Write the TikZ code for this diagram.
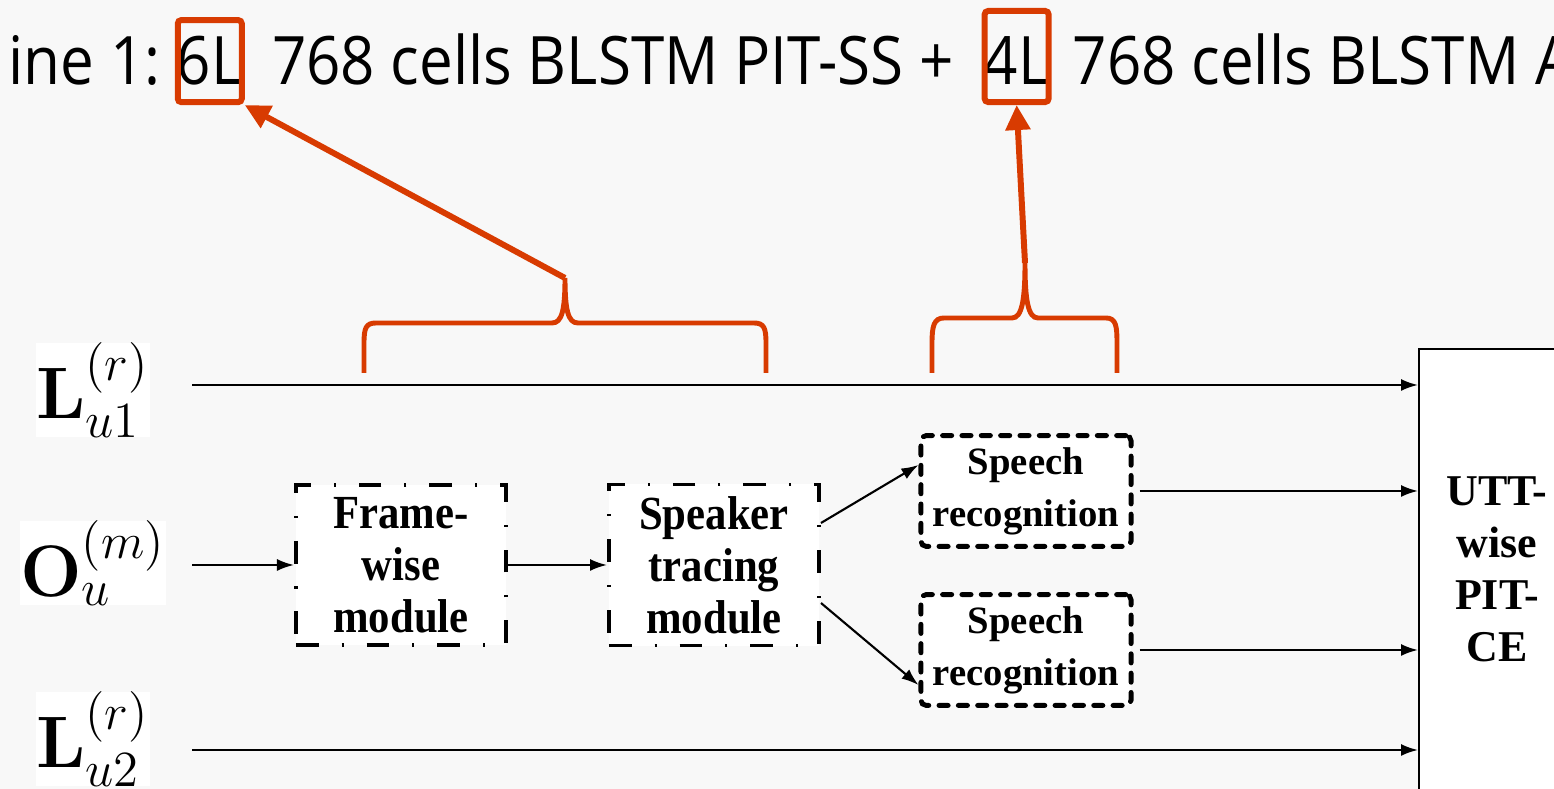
\documentclass[tikz,border=0pt]{standalone}
\usepackage{amsmath}
\usepackage[no-math]{fontspec}
\setmainfont{Liberation Serif}
\newfontfamily\slidefont[FakeStretch=0.9]{Open Sans}
\newfontfamily\boxfont[FakeStretch=0.9]{Liberation Serif}
\usetikzlibrary{arrows.meta}
\definecolor{slidebg}{RGB}{248,248,248}
\definecolor{callout}{RGB}{216,59,1}

\begin{document}
\begin{tikzpicture}[x=0.01cm, y=-0.01cm,
    slide/.style={anchor=base west, inner sep=0pt, font=\slidefont\fontsize{19}{23}\selectfont},
    hlbox/.style={draw=callout, line width=1.7pt, rounded corners=1pt, minimum width=0.64cm},
    pointer/.style={callout, line width=1.7pt, -{Triangle[length=0.25cm,width=0.24cm]}},
    brace/.style={callout, line width=1.4pt},
    inlabel/.style={fill=white, inner sep=0pt, font=\fontsize{20}{24}\selectfont},
    dashdotbox/.style={draw, fill=white, line width=1.1pt,
        dash pattern=on 6.5pt off 6.5pt on 0.6pt off 6.5pt,
        minimum width=2.1cm, minimum height=1.6cm, align=center,
        font=\boxfont\bfseries\fontsize{13.5}{14.8}\selectfont},
    dotbox/.style={draw, fill=white, line width=1.4pt, line cap=round,
        dash pattern=on 2.6pt off 2.9pt, rounded corners=1.5pt,
        minimum width=2.1cm, minimum height=1.1cm, align=center,
        font=\bfseries\fontsize{11}{14.8}\selectfont},
    arr/.style={line width=0.6pt, -{Latex[length=0.17cm,width=0.12cm]}}
]
    % Slide background
    \fill [slidebg] (0,0) rectangle (1554,789);
    \useasboundingbox (0,0) rectangle (1554,789);

    % Slide text
    \node (ln0) [slide] at (8,85) {ine 1:};
    \node (ln1) [slide] at ([xshift=0.15cm]ln0.base east) {6L};
    \node (ln2) [slide] at ([xshift=0.28cm]ln1.base east) {768 cells BLSTM PIT-SS +};
    \node (ln3) [slide] at ([xshift=0.29cm]ln2.base east) {4L};
    \node (ln4) [slide] at ([xshift=0.22cm]ln3.base east) {768 cells BLSTM A};

    % Highlight boxes
    \node (box6) [hlbox, minimum height=0.82cm] at (ln1.center) {};
    \node (box4) [hlbox, minimum height=0.91cm] at ([yshift=0.045cm]ln3.center) {};

    % Braces
    \draw [brace] (364,373) -- (364,343)
        .. controls (364,328) and (366,323) .. (376,323) -- (552,323)
        .. controls (562,323) and (565,310) .. (565,278)
        .. controls (565,310) and (568,323) .. (578,323) -- (754,323)
        .. controls (764,323) and (766,328) .. (766,343) -- (766,373);
    \coordinate (tip6) at (565,278);
    \draw [brace] (932,373) -- (932,343)
        .. controls (932,326) and (934,318) .. (944,318) -- (1012,318)
        .. controls (1022,318) and (1025,300) .. (1025,263)
        .. controls (1025,300) and (1028,318) .. (1038,318) -- (1106,318)
        .. controls (1116,318) and (1117,326) .. (1117,343) -- (1117,373);
    \coordinate (tip4) at (1025,263);
    \draw [pointer] (tip6) -- (box6.south east);
    \draw [pointer] (tip4) -- (box4.south);

    % Inputs
    \node (lu1) [inlabel] at (93,390) {$\mathbf{L}_{u1}^{(r)}$};
    \node (ou) [inlabel] at (93,563) {$\mathbf{O}_{u}^{(m)}$};
    \node (lu2) [inlabel] at (93,739) {$\mathbf{L}_{u2}^{(r)}$};

    % Modules
    \node (frame) [dashdotbox] at (401,565) {Frame-\\wise\\module};
    \node (spk) [dashdotbox] at (714,565) {Speaker\\tracing\\module};
    \node (asr1) [dotbox] at (1026,491) {Speech\\recognition};
    \node (asr2) [dotbox] at (1026,650) {Speech\\recognition};
    \node (utt) [draw, fill=white, line width=0.6pt, minimum width=3cm,
        minimum height=5.6cm, anchor=north west] at (1418,348) {};
    \node (uttlbl) [align=center, font=\bfseries\fontsize{12.5}{14.8}\selectfont]
        at (1497,569) {UTT-\\wise\\PIT-\\CE};

    % Connections
    \coordinate (in1) at (192,385);
    \coordinate (in0) at (192,565);
    \coordinate (in2) at (192,750);
    \draw [arr] (in1) -- (in1 -| utt.west);
    \draw [arr] (in0) -- (frame.west);
    \draw [arr] (in2) -- (in2 -| utt.west);
    \draw [arr] (frame.east) -- (spk.west);
    \draw [arr] ([yshift=0.42cm]spk.east) -- ([yshift=0.26cm]asr1.west);
    \draw [arr] ([yshift=-0.38cm]spk.east) -- ([yshift=-0.35cm]asr2.west);
    \draw [arr] ([xshift=0.06cm]asr1.east) -- (asr1.east -| utt.west);
    \draw [arr] ([xshift=0.06cm]asr2.east) -- (asr2.east -| utt.west);
\end{tikzpicture}
\end{document}
